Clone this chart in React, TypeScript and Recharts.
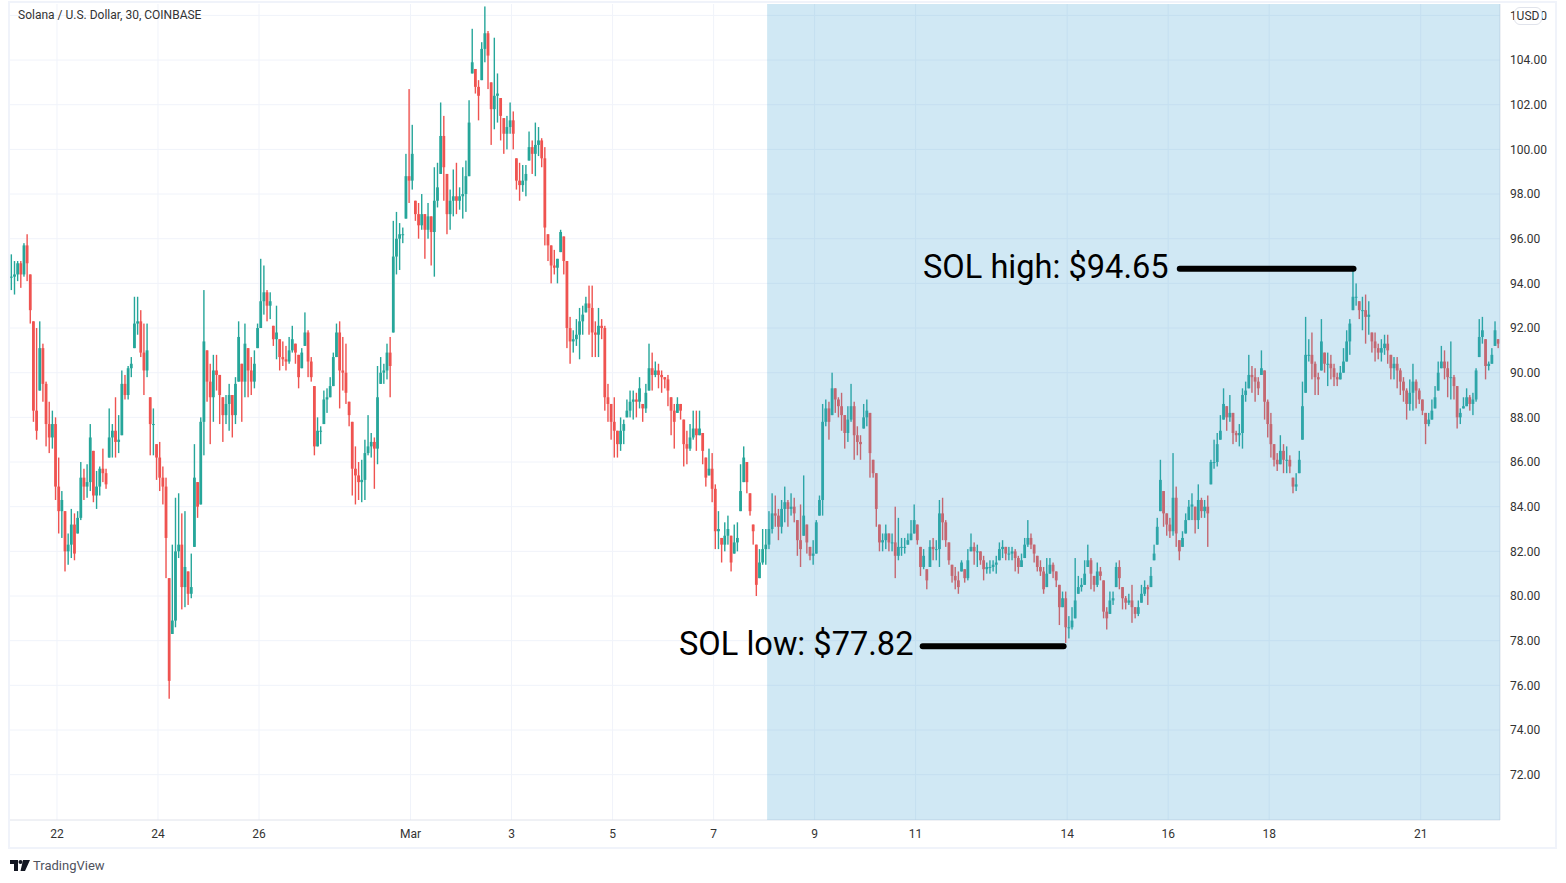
import React from "react";
import {
  Bar,
  CartesianGrid,
  ComposedChart,
  ReferenceArea,
  ReferenceLine,
  XAxis,
  YAxis,
} from "recharts";

// 90-minute bars, day 0 is Feb 22
const firstBarDay = -0.9;
const barStepDays = 0.0625;

const highs = [
  95.3, 95, 95, 95, 95.8, 96.2, 94.4, 92.3, 92, 92.3,
  91.3, 89.6, 88.7, 88.3, 88, 86.2, 84.7, 83.8, 82.8, 83.9,
  83.7, 83.8, 86, 85.7, 85.9, 87.7, 86.5, 85.6, 85.8, 86.6,
  85.7, 88.4, 87.7, 88.9, 88.1, 90.1, 89.9, 90.3, 90.7, 93.4,
  93.4, 92.8, 92.2, 92.2, 88.9, 88.4, 86.8, 86.9, 85.8, 85.3,
  80.8, 82.3, 84.4, 84.6, 83.7, 83.8, 81.1, 81.9, 86.8, 85.1,
  88, 93.7, 91, 90.4, 90.8, 90.8, 89.9, 88.9, 89, 89.5,
  89, 89.8, 92.3, 90.4, 92.2, 91.1, 90.7, 91, 92.2, 95.1,
  94.8, 93.7, 93.6, 92.1, 93, 91.5, 91.4, 91.2, 91.6, 92.1,
  91.3, 90.8, 91.1, 92.7, 91.9, 90.7, 89.4, 88, 87.6, 89.2,
  89.3, 89.8, 90.9, 92.2, 92.3, 91.6, 91.3, 88.7, 87.8, 86.7,
  86, 86.1, 87, 88.1, 87.3, 87.1, 90.3, 90.7, 90.4, 91.3,
  91.6, 96.8, 97.2, 96.7, 96.5, 99.8, 102.7, 101.1, 97.7, 97.6,
  98, 97.1, 97.6, 97, 99.2, 99.4, 102.1, 101.5, 98.9, 98.2,
  99.1, 99.4, 98.3, 99.2, 99.5, 102.2, 105.4, 103.6, 103.1, 104.8,
  106.4, 105.3, 103, 105, 103.4, 102.3, 101.4, 101.5, 102.1, 101.7,
  99.6, 99.4, 99.3, 99.3, 100.8, 100.4, 101.2, 101, 100.5, 100.1,
  96.2, 95.7, 95.5, 95.1, 96.4, 96.1, 95, 92.5, 91.9, 92.4,
  92.9, 93, 93.4, 93.9, 93.9, 92.3, 92.9, 92.4, 92.1, 89.5,
  88.6, 88.9, 87.4, 88, 87.9, 88.8, 89.2, 89.2, 89.1, 89.8,
  88.6, 89.5, 91.3, 90.9, 90.5, 90.4, 90.1, 89.8, 89.9, 88.9,
  88.6, 88.9, 88.6, 87.9, 87.4, 87.7, 88.3, 88.3, 88.3, 87.3,
  86.2, 86.6, 86.4, 85, 83.8, 82.6, 83.3, 83.6, 82.7, 83.2,
  83.3, 85.9, 86.7, 86, 84.6, 83.2, 82.3, 82.1, 83, 83,
  83.8, 84.6, 84.5, 83.9, 84.3, 84.9, 84.3, 84.6, 84.4, 83.4,
  84.1, 85.4, 83.2, 82.2, 82.5, 83.4, 84.5, 88.6, 88.8, 88.7,
  90, 89.3, 88.9, 89.1, 88.1, 88.5, 89.5, 88.7, 87.6, 87.2,
  88.6, 88.8, 88.2, 86.1, 85.5, 83.2, 82.8, 83.2, 82.8, 82.8,
  84, 83.5, 82.6, 82.6, 82.8, 83.4, 84.1, 83.2, 82.2, 82.1,
  81.2, 82.5, 82.6, 82.5, 84.3, 84.4, 83.4, 82.4, 81.4, 81.3,
  81.1, 81.6, 81.2, 82.1, 82.8, 82.4, 82.3, 82, 81.8, 81.5,
  81.6, 81.6, 81.8, 82.4, 82.5, 82.2, 82.2, 82.2, 82.1, 81.8,
  81.9, 82.6, 83.4, 82.8, 82.3, 81.8, 81.6, 81.3, 81.7, 81.7,
  81.5, 81.1, 80.5, 80.2, 80.2, 79.1, 79.5, 81.7, 80.9, 80.8,
  81.6, 82.3, 81.7, 80.9, 81.5, 81.3, 80.7, 79.5, 80.2, 80.2,
  81.5, 81.6, 80.4, 80, 80.1, 80.5, 79.5, 79.8, 80.5, 80.7,
  80.5, 81.3, 82.3, 83.5, 86.1, 84.7, 83.7, 83.5, 86.4, 84.9,
  82.5, 82.9, 83.7, 84.3, 84.6, 84, 85, 84.4, 84.3, 84.5,
  86.1, 87, 87.3, 88.1, 89.3, 88.5, 89, 88.2, 87.4, 87.7,
  89.3, 89.6, 90.8, 90.3, 90.2, 89.8, 91, 90.1, 88.8, 88.2,
  86.8, 86.4, 87.2, 86.8, 86.7, 86.3, 85.3, 85.5, 86.5, 89.6,
  92.5, 91.5, 91.8, 90.5, 90, 92.4, 90.9, 90.9, 90.8, 90.4,
  90, 90.3, 91.1, 91.9, 92.4, 94.6, 94, 93.2, 93.4, 93.5,
  93.2, 91.8, 91.8, 91.3, 91.5, 91.7, 91.7, 90.8, 90.7, 90.7,
  90.2, 89.8, 89.3, 89.7, 90.4, 89.7, 89.3, 88.8, 88.2, 88.2,
  88.8, 89.4, 90.5, 91.2, 91, 90.5, 91.4, 89.9, 89.4, 88.4,
  88.9, 89.3, 89, 89.1, 90.2, 92.4, 92.5, 91.5, 90.5, 91.1,
  92.3, 91.5,
];

const lows = [
  93.7, 93.5, 94.1, 93.8, 94.3, 94.1, 92.2, 87.8, 87, 89.2,
  88.7, 86.7, 86.4, 86.6, 84.3, 82.8, 82.6, 81.1, 81.4, 81.7,
  81.6, 82.8, 83.4, 84.3, 84.4, 84.7, 84.2, 83.9, 84.5, 85.1,
  84.8, 86.2, 86.2, 86.2, 86.4, 87.2, 88.8, 88.8, 89.8, 91.1,
  91.7, 90.7, 89, 89.8, 86.3, 86.3, 85.2, 84.7, 84.1, 80.8,
  75.4, 78.3, 78.6, 81.7, 79.4, 79.5, 79.6, 79.9, 82.2, 83.5,
  84.1, 86.3, 88.7, 86.8, 87.8, 89.2, 87.7, 86.9, 87.7, 87.4,
  87.1, 87.7, 89.6, 87.8, 88.9, 88.9, 89, 89.3, 91.1, 92,
  92.6, 92.3, 92.4, 91.2, 90.6, 90.1, 90.3, 90.1, 90.4, 90.9,
  90.4, 89.3, 90.2, 91.2, 89.8, 89.6, 86.3, 86.7, 86.8, 87.7,
  88.2, 88.9, 89.4, 90.7, 88.4, 89.2, 88.6, 87.6, 84.5, 84.1,
  84.3, 84.2, 84.3, 86.3, 86.2, 84.8, 85.9, 89.5, 89.5, 89.7,
  88.9, 91.8, 94.4, 94.6, 95.8, 96.9, 97.6, 98.2, 96.8, 96,
  96.4, 95.1, 96, 94.8, 94.3, 97.4, 98.9, 97.7, 96.2, 96.4,
  97, 97.1, 97.3, 96.9, 97.2, 98.8, 103.4, 102.5, 101.3, 103.1,
  103.9, 102.7, 100.2, 100.9, 101.2, 100.4, 99.8, 100, 100.7, 100,
  98.2, 97.7, 98.1, 97.9, 99.5, 98.9, 98.8, 99.7, 99.2, 95.7,
  95, 94, 94.4, 94, 95.4, 94.4, 91.1, 90.4, 90.9, 91.2,
  90.6, 91.7, 92.7, 91.7, 90.7, 90.7, 90.7, 91.5, 88.3, 87.8,
  87, 86.2, 86.2, 86.5, 86.8, 88, 88, 87.9, 88, 88.4,
  87.8, 88.2, 89.2, 89.2, 89.8, 89.3, 89.1, 89.3, 88.5, 87.2,
  86.6, 88.2, 87.9, 85.8, 85.9, 86.5, 87, 86.5, 87.2, 85.9,
  84.9, 85.4, 84.2, 82.1, 82.1, 81.5, 82, 82.3, 81.1, 81.9,
  82, 83.8, 85.1, 84.6, 83.6, 82.3, 80, 80.8, 81.4, 81.4,
  82.1, 82.8, 83.1, 82.5, 82.8, 83.3, 83.1, 83.6, 83.3, 81.8,
  81.3, 82.7, 81.9, 81.6, 81.4, 81.9, 83.6, 83.6, 87.6, 87,
  88.1, 88.2, 88, 87.4, 86.6, 86.9, 87.8, 86.1, 86.3, 86.1,
  87.5, 87.6, 85.3, 85.3, 83.1, 82, 82, 82.1, 82, 82,
  80.8, 81.6, 81.8, 81.9, 82.3, 82.5, 82.8, 82.3, 80.9, 81.2,
  80.3, 81.3, 81.6, 81.6, 81.3, 82.5, 82.2, 81.4, 80.6, 80.3,
  80.1, 81.1, 80.6, 80.7, 82, 81.4, 81.3, 81.4, 80.7, 81,
  81, 81.1, 81, 81.6, 81.7, 81.6, 81.6, 81.6, 81.1, 81,
  81.3, 81.7, 82.2, 82.1, 81.5, 81.1, 80.9, 80.1, 80.4, 81,
  80.8, 80.4, 78.7, 79.5, 77.9, 78.1, 78.5, 79, 80.1, 80.2,
  80.5, 81.3, 80.3, 80.2, 80.4, 80.7, 79, 78.5, 79.2, 79.6,
  80.4, 80.3, 79.4, 79.4, 79.6, 78.8, 79, 79.1, 79.7, 80,
  79.6, 80.4, 81.6, 82.3, 83.8, 83.1, 82.7, 82.6, 82.7, 82.2,
  81.6, 82.2, 82.8, 83.4, 83.4, 82.8, 83, 83.5, 83.5, 82.2,
  85, 85.7, 85.8, 87, 87.9, 87.4, 87.8, 86.8, 86.9, 86.7,
  86.6, 88.7, 89.3, 89.1, 88.7, 89, 89.9, 87.9, 87.1, 86.2,
  85.8, 85.6, 85.9, 85.5, 85.5, 85.5, 84.6, 84.7, 85.5, 87,
  89.1, 90.5, 89.7, 89, 89, 90.1, 90, 89.4, 89.7, 89.4,
  89.4, 89.7, 90, 90.5, 90.8, 92.8, 93, 92.4, 91.9, 91.3,
  91.7, 90.9, 90.5, 90.6, 90.5, 90.8, 90.4, 89.7, 89.7, 89.3,
  89, 88.7, 87.9, 88.3, 88.3, 88.4, 88.6, 88.1, 86.8, 87.6,
  87.9, 88.4, 89.2, 90.2, 89.7, 88.9, 88.8, 88.8, 87.5, 87.7,
  88.4, 88.5, 88.3, 88.1, 88.7, 90.7, 91.3, 89.7, 90.1, 90.4,
  91.2, 91.1,
];

const closes = [
  94.3, 94.4, 94.9, 94.4, 95.7, 94.9, 92.8, 88.3, 87.4, 91.1,
  89.5, 87.7, 87.1, 87.7, 84.9, 83.8, 84.3, 82, 82.3, 83.2,
  81.9, 83.5, 85.3, 84.9, 85.1, 87.1, 84.5, 84.9, 85.7, 85.5,
  85, 87.1, 87.4, 86.9, 87, 89.5, 89, 90.2, 90.4, 92.2,
  92.3, 90.9, 90.1, 91, 87.7, 87.7, 86.2, 85.3, 84.9, 82.6,
  76.2, 78.9, 82, 82.3, 80.4, 81.3, 80.1, 80.4, 85.3, 84,
  87.8, 91.4, 89.6, 88.9, 90.1, 89.9, 89, 88.1, 88.6, 89,
  88.1, 89.5, 91.6, 89.6, 91.3, 90.1, 89.6, 90.4, 92, 93.2,
  93.6, 93, 93.2, 91.5, 91.8, 90.7, 90.6, 90.5, 91, 91.5,
  90.9, 89.8, 90.9, 91.8, 90.5, 89.8, 86.7, 87.4, 87.4, 88.8,
  88.9, 89.4, 90.7, 91.8, 90.1, 90, 89.1, 88.1, 85.7, 85.4,
  85.1, 85.2, 86.4, 86.7, 86.9, 86.6, 88.9, 90, 90.1, 90.9,
  90.3, 95.2, 96, 96.2, 96.2, 98.8, 98.6, 99.8, 97.1, 96.6,
  97.1, 96.4, 97, 96.3, 97.7, 98.3, 100.6, 99.2, 97.1, 97.7,
  97.9, 97.7, 97.9, 98, 98.8, 101.2, 103.9, 102.8, 102.4, 104.5,
  105.2, 104.2, 101.8, 102.4, 102.5, 101.5, 100.7, 101, 101.3, 100.7,
  98.6, 98.4, 98.6, 98.9, 100.1, 99.8, 100.2, 100.4, 99.6, 96.5,
  95.7, 94.8, 94.7, 95.1, 96.3, 95, 92, 91.4, 91.5, 91.7,
  92.3, 92.6, 93.1, 92.9, 91.8, 91.7, 92.1, 92, 88.9, 88.6,
  87.8, 87.4, 86.8, 87.4, 87.7, 88.3, 88.7, 88.8, 88.7, 89.3,
  88.4, 89.1, 90.2, 89.9, 90.1, 89.9, 89.8, 89.7, 89.2, 88.3,
  87.8, 88.6, 88.3, 86.8, 86.6, 87.1, 87.5, 87.2, 87.5, 86.5,
  85.3, 85.7, 84.8, 82.9, 83, 82.3, 82.7, 83, 81.5, 82.4,
  82.6, 84.7, 86.2, 85.1, 83.8, 82.9, 80.5, 81.5, 82.1, 82.3,
  83, 83.7, 83.6, 83.1, 83.9, 84.2, 83.9, 84, 83.7, 82.5,
  82.1, 83.6, 82.4, 81.8, 81.9, 83.3, 84.3, 87.8, 88.4, 87.8,
  89.3, 88.8, 88.5, 88.1, 87.3, 87.9, 88.5, 87.2, 86.9, 86.8,
  88, 88.3, 86.4, 85.5, 83.9, 82.4, 82.5, 82.8, 82.4, 82.4,
  81.8, 82.2, 82.2, 82.2, 82.5, 82.8, 83.4, 82.5, 81.3, 81.8,
  80.7, 82.2, 82.1, 82.1, 83.7, 83.3, 82.5, 81.6, 80.9, 80.7,
  80.4, 81.5, 80.8, 81.6, 82.2, 82, 82, 81.6, 81.2, 81.3,
  81.3, 81.4, 81.5, 82.1, 82.2, 81.9, 81.9, 82, 81.7, 81.3,
  81.6, 82.3, 82.6, 82.3, 81.9, 81.3, 81.1, 80.3, 81, 81.4,
  81.1, 80.7, 79.5, 79.9, 78.6, 78.6, 78.9, 79.8, 80.4, 80.5,
  81, 81.6, 81, 80.5, 81.1, 80.9, 79.3, 79, 79.8, 79.9,
  81.3, 80.8, 79.9, 79.7, 79.8, 79.5, 79.2, 79.5, 80.1, 80.4,
  80.3, 80.9, 81.9, 83.1, 85.2, 83.7, 83.2, 82.9, 84.4, 82.8,
  82, 82.6, 83.4, 84, 84.1, 83.4, 84.3, 83.8, 84, 83.7,
  86, 86, 86.8, 87.4, 88.6, 88, 88.2, 87.3, 87.2, 87.3,
  89, 89.2, 89.9, 89.8, 89.6, 89.3, 90.2, 88.7, 87.7, 86.8,
  86.1, 85.9, 86.5, 86.1, 86.1, 85.8, 84.9, 85, 86.1, 88.5,
  90.8, 90.8, 90.4, 89.8, 89.7, 91.4, 90.4, 90.4, 90.2, 89.8,
  89.7, 90, 90.5, 91.4, 92.2, 93.4, 93.4, 92.8, 92.8, 92.5,
  92.6, 91.4, 91.1, 90.9, 91.1, 91.3, 91, 90.2, 90.4, 90.1,
  89.6, 89.2, 88.6, 89.1, 89.6, 89.2, 88.8, 88.3, 87.7, 87.9,
  88.3, 88.9, 90, 90.5, 90.2, 89.8, 89.8, 89.4, 88, 88.2,
  88.5, 88.9, 88.6, 88.8, 90.1, 91.6, 91.9, 90.3, 90.4, 90.8,
  91.9, 91.3,
];

const priceTicks = [72, 74, 76, 78, 80, 82, 84, 86, 88, 90, 92, 94, 96, 98, 100, 102, 104, 106];
const dayTicks = [0, 2, 4, 7, 9, 11, 13, 15, 17, 20, 22, 24, 27];
const dayLabels = ["22", "24", "26", "Mar", "3", "5", "7", "9", "11", "14", "16", "18", "21"];

// hand drawn marker lines on the original, the low one sits a touch under its label value
const highMarkerPrice = 94.65;
const lowMarkerPrice = 77.75;

const rows = highs.map((high, i) => ({
  day: firstBarDay + i * barStepDays,
  range: [lows[i], high],
  high,
  low: lows[i],
  open: i === 0 ? closes[0] : closes[i - 1],
  close: closes[i],
}));

const UP = "#26a69a";
const DOWN = "#ef5350";
const FONT = "Roboto, sans-serif";

const Candle = (props: any) => {
  const { x, y, width, height, payload } = props;
  const { high, low, open, close } = payload;
  const fill = close >= open ? UP : DOWN;
  const toY = (p: number) => y + ((high - Math.min(high, Math.max(low, p))) / (high - low)) * height;
  const bodyTop = toY(Math.max(open, close));
  const bodyBottom = toY(Math.min(open, close));
  return (
    <g>
      <rect x={x + width / 2 - 0.7} y={y} width={1.4} height={height} fill={fill} />
      <rect x={x} y={bodyTop} width={width} height={Math.max(1, bodyBottom - bodyTop)} fill={fill} />
    </g>
  );
};

const overlayText: React.CSSProperties = {
  position: "absolute",
  fontFamily: FONT,
  whiteSpace: "nowrap",
};

export default function App() {
  return (
    <div style={{ position: "absolute", left: 0, top: 0, width: 1566, height: 883, background: "#fff", overflow: "hidden" }}>
      <div style={{ position: "absolute", left: 8, top: 1, width: 1545, height: 844, border: "2px solid #f0f3fa" }} />
      <ComposedChart
        width={1566}
        height={883}
        data={rows}
        margin={{ left: 10, top: 4, right: 10, bottom: 35 }}
        style={{ position: "absolute", left: 0, top: 0 }}
      >
        <CartesianGrid stroke="#f0f3fa" strokeWidth={1} horizontalValues={priceTicks} verticalValues={dayTicks} />
        <XAxis
          dataKey="day"
          type="number"
          domain={[-0.93, 28.57]}
          ticks={dayTicks}
          tickFormatter={(d: number) => dayLabels[dayTicks.indexOf(d)]}
          height={28}
          tickLine={false}
          axisLine={{ stroke: "#e0e3eb" }}
          tick={{ fontFamily: FONT, fontSize: 12, fill: "#333", dy: 1 }}
          allowDataOverflow
        />
        <YAxis
          orientation="right"
          width={56}
          domain={[69.97, 106.51]}
          ticks={priceTicks}
          tickFormatter={(v: number) => v.toFixed(2)}
          tickLine={false}
          tickMargin={4}
          axisLine={{ stroke: "#e0e3eb" }}
          tick={{ fontFamily: FONT, fontSize: 12, fill: "#333" }}
          allowDataOverflow
        />
        <Bar dataKey="range" barSize={2.8} shape={Candle} isAnimationActive={false} />
        <ReferenceArea
          x1={14.06}
          x2={28.57}
          y1={69.97}
          y2={106.51}
          fill="#43a4d4"
          fillOpacity={0.25}
          stroke="none"
          zIndex={1500}
        />
        <ReferenceLine
          segment={[{ x: 22.23, y: highMarkerPrice }, { x: 25.67, y: highMarkerPrice }]}
          stroke="#000"
          strokeWidth={6}
          strokeLinecap="round"
          zIndex={1600}
        />
        <ReferenceLine
          segment={[{ x: 17.14, y: lowMarkerPrice }, { x: 19.93, y: lowMarkerPrice }]}
          stroke="#000"
          strokeWidth={6}
          strokeLinecap="round"
          zIndex={1600}
        />
      </ComposedChart>

      <div style={{ ...overlayText, left: 18, top: 8, fontSize: 12, color: "#333" }}>
        Solana / U.S. Dollar, 30, COINBASE
      </div>
      <div style={{ ...overlayText, left: 923, top: 248, fontSize: 32.6, color: "#000" }}>SOL high: $94.65</div>
      <div style={{ ...overlayText, left: 679, top: 625, fontSize: 32.6, color: "#000" }}>SOL low: $77.82</div>
      <div
        style={{
          ...overlayText,
          left: 1514,
          top: 7,
          width: 26,
          height: 16,
          lineHeight: "16px",
          textAlign: "center",
          fontSize: 12,
          color: "#333",
          background: "#fff",
          border: "1px solid #e0e3eb",
          borderRadius: 6,
        }}
      >
        USD
      </div>
      <svg style={{ position: "absolute", left: 10, top: 860 }} width={20} height={12} viewBox="0 0 20 12">
        <path d="M0 0H8V11H4V4H0Z M13 0H20L15 11H10.5Z" fill="#131722" />
        <circle cx={10.5} cy={2} r={2} fill="#131722" />
      </svg>
      <div style={{ ...overlayText, left: 33, top: 858, fontSize: 13, color: "#50535e" }}>TradingView</div>
    </div>
  );
}
